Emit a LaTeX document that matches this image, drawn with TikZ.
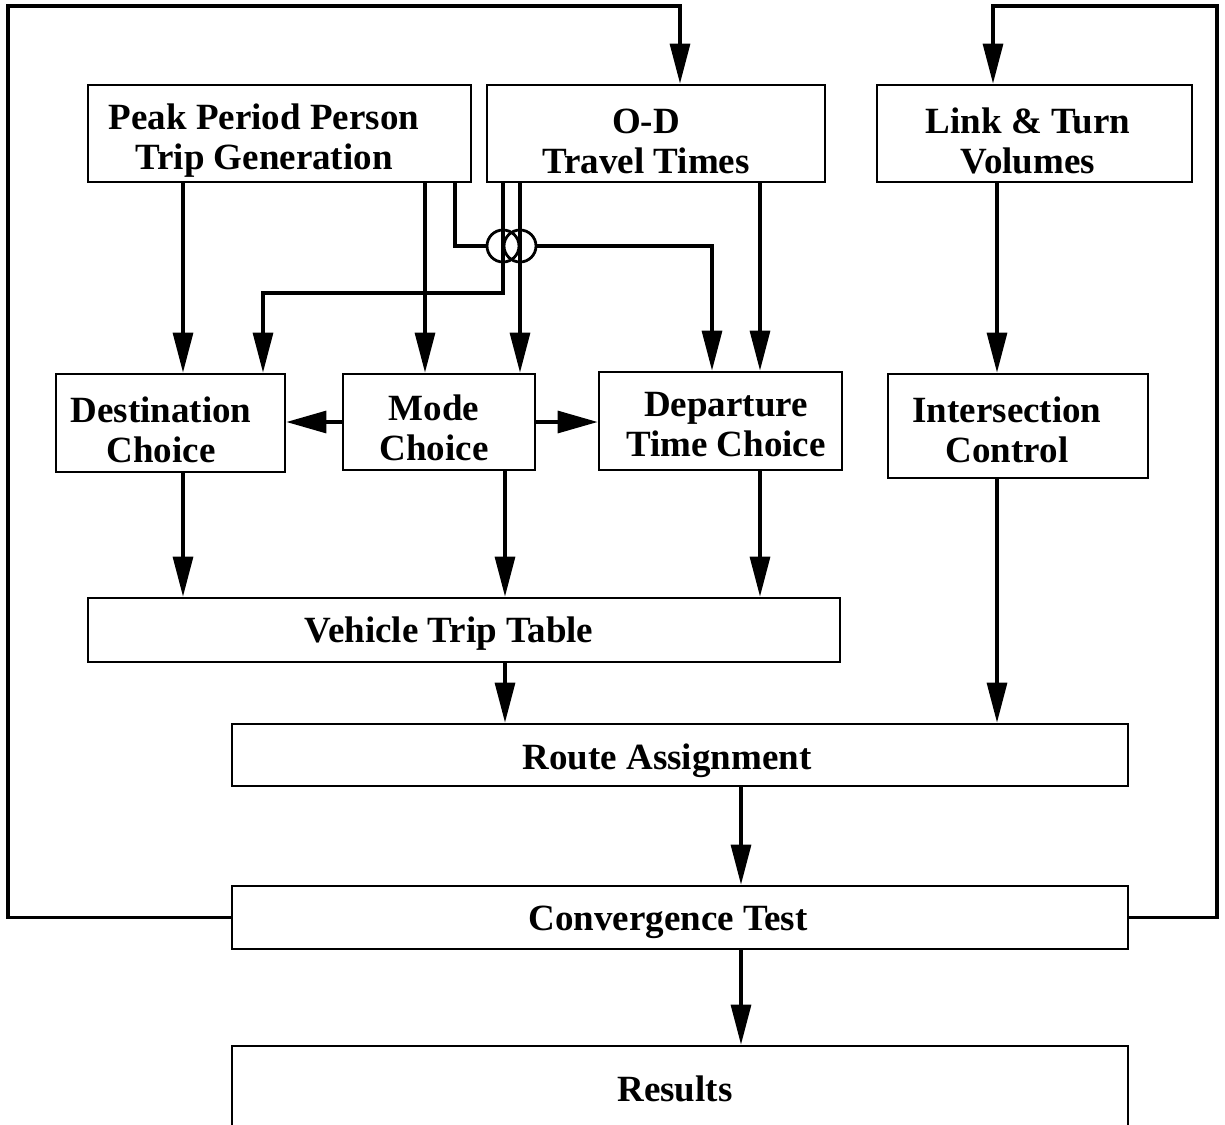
\documentclass[tikz,border=0pt]{standalone}
\usepackage{fontspec}
\setmainfont{Liberation Serif}
\usetikzlibrary{arrows.meta}
\begin{document}
\begin{tikzpicture}[x=1pt,y=-1pt,line width=3.2pt,
  box/.style={draw,rectangle,inner sep=0pt,line width=2.8pt},
  lbl/.style={align=center,font=\fontsize{37}{40}\selectfont\bfseries,inner sep=0pt},
  arr/.style={-{Triangle[length=40pt,width=20pt]}},
  harr/.style={-{Triangle[length=40pt,width=22pt]}}]
\useasboundingbox (0,0) rectangle (1225,1124);
% boxes
\node[box,minimum width=383pt,minimum height=97pt] (pp) at (279.5,133.5) {};
\node[box,minimum width=338pt,minimum height=97pt] (od) at (656,133.5) {};
\node[box,minimum width=315pt,minimum height=97pt] (lt) at (1034.5,133.5) {};
\node[box,minimum width=229pt,minimum height=98pt] (dc) at (170.5,423) {};
\node[box,minimum width=192pt,minimum height=96pt] (mc) at (439,422) {};
\node[box,minimum width=243pt,minimum height=98pt] (dt) at (720.5,421) {};
\node[box,minimum width=260pt,minimum height=104pt] (ic) at (1018,426) {};
\node[box,minimum width=752pt,minimum height=64pt] (vt) at (464,630) {};
\node[box,minimum width=896pt,minimum height=62pt] (ra) at (680,755) {};
\node[box,minimum width=896pt,minimum height=63pt] (ct) at (680,917.5) {};
\node[box,minimum width=896pt,minimum height=114pt] (rs) at (680,1103) {};
% labels
\node[lbl] (ppt) at (264,141) {Peak Period Person\\Trip Generation};
\node[lbl] (odt) at (646,141) {O-D\\Travel Times};
\node[lbl] (ltt) at (1028,141) {Link \& Turn\\Volumes};
\node[lbl] (dct) at (161,430) {Destination\\Choice};
\node[lbl] (mct) at (434,428) {Mode\\Choice};
\node[lbl] (dtt) at (726,425) {Departure\\Time Choice};
\node[lbl] (ict) at (1007,430) {Intersection\\Control};
\node[lbl] (vtt) at (449,634) {Vehicle Trip Table};
\node[lbl] (rat) at (667,761) {Route Assignment};
\node[lbl] (ctt) at (668,922) {Convergence Test};
\node[lbl] (rst) at (675,1089) {Results};
% helper coordinates
\coordinate (xa) at (183,0);
\coordinate (xb) at (425,0);
\coordinate (xc) at (455,246);
\coordinate (xd) at (712,246);
\coordinate (c1) at (503,246);
\coordinate (c2) at (520,246);
\coordinate (xe) at (263,293);
\coordinate (xf) at (760,0);
\coordinate (xg) at (997,0);
\coordinate (xh) at (505,0);
\coordinate (xi) at (741,0);
\coordinate (l1) at (8,6);
\coordinate (r1) at (1217,6);
\coordinate (lx) at (680,0);
\coordinate (rx) at (993,0);
% crossing circles
\draw[line width=2.8pt] (c1) circle[radius=16pt] (c2) circle[radius=16pt];
% connectors
\draw[arr] (pp.south -| xa) -- (dc.north -| xa);
\draw[arr] (pp.south -| xb) -- (mc.north -| xb);
\draw (pp.south -| xc) -- (xc) -- ([xshift=-16pt]c1);
\draw[arr] ([xshift=16pt]c2) -- (xd) -- (dt.north -| xd);
\draw (od.south -| c1) -- ([yshift=-16pt]c1);
\draw[arr] ([yshift=16pt]c1) |- (xe) -- (dc.north -| xe);
\draw (od.south -| c2) -- ([yshift=-16pt]c2);
\draw[arr] ([yshift=16pt]c2) -- (mc.north -| c2);
\draw[arr] (od.south -| xf) -- (dt.north -| xf);
\draw[arr] (lt.south -| xg) -- (ic.north -| xg);
\draw[harr] (mc.west) -- (dc.east |- mc.west);
\draw[harr] (mc.east) -- (dt.west |- mc.east);
\draw[arr] (dc.south -| xa) -- (vt.north -| xa);
\draw[arr] (mc.south -| xh) -- (vt.north -| xh);
\draw[arr] (dt.south -| xf) -- (vt.north -| xf);
\draw[arr] (ic.south -| xg) -- (ra.north -| xg);
\draw[arr] (vt.south -| xh) -- (ra.north -| xh);
\draw[arr] (ra.south -| xi) -- (ct.north -| xi);
\draw[arr] (ct.south -| xi) -- (rs.north -| xi);
\draw[arr] (ct.west) -| (l1) -| (od.north -| lx);
\draw[arr] (ct.east) -| (r1) -| (lt.north -| rx);
\end{tikzpicture}
\end{document}
